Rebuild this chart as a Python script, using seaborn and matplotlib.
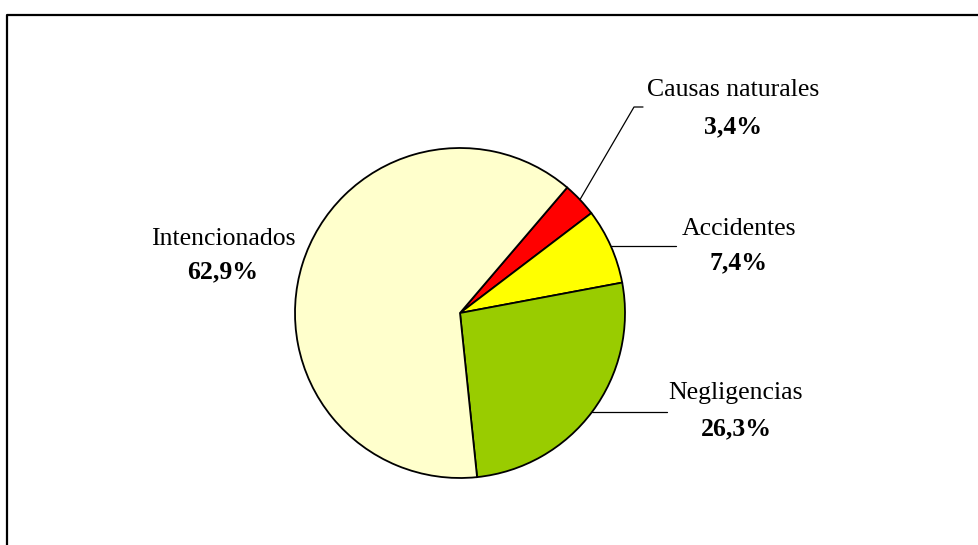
import seaborn as sns
import matplotlib.pyplot as plt
import numpy as np

# data
causas = ["Causas naturales", "Accidentes", "Negligencias", "Intencionados"]
porcentajes = [3.4, 7.4, 26.3, 62.9]
etiquetas_pct = ["3,4%", "7,4%", "26,3%", "62,9%"]
colores = ["#FF0000", "#FFFF00", "#99CC00", "#FFFFCC"]

sns.set_theme(style="white")
plt.rcParams["font.family"] = ["Liberation Serif", "DejaVu Serif"]
plt.rcParams["text.color"] = "black"

W, H = 979, 545
fig = plt.figure(figsize=(W / 100, H / 100), dpi=100)
ax = fig.add_axes([0, 0, 1, 1])

centro = (460, H - 313)
radio = 165
wedges, _ = ax.pie(porcentajes, colors=colores, startangle=49.5, counterclock=False,
                   center=centro, radius=radio,
                   wedgeprops=dict(edgecolor="black", linewidth=1.3))
ax.set_xlim(0, W)
ax.set_ylim(0, H)
ax.set_aspect("equal")
ax.axis("off")

# label positions (name centre x, name y, pct y) in pixels from top-left, and leader end
layout = {
    "Causas naturales": dict(x=733, yn=90, yp=127, leader=[(634, 107), (643, 107)]),
    "Accidentes": dict(x=739, yn=229, yp=263, leader="h", xend=676),
    "Negligencias": dict(x=736, yn=393, yp=429, leader="h", xend=667),
    "Intencionados": dict(x=223, yn=239, yp=272, leader=None),
}

fs = 18.5
for w, nombre, pct in zip(wedges, causas, etiquetas_pct):
    lay = layout[nombre]
    ax.text(lay["x"], H - lay["yn"], nombre, ha="center", va="center", fontsize=fs,
            color="black")
    ax.text(lay["x"], H - lay["yp"], pct, ha="center", va="center", fontsize=fs,
            fontweight="bold", color="black")
    ang = np.deg2rad((w.theta1 + w.theta2) / 2)
    x0 = centro[0] + radio * np.cos(ang)
    y0 = centro[1] + radio * np.sin(ang)
    if lay["leader"] == "h":
        ax.plot([x0, lay["xend"]], [y0, y0], color="black", lw=0.9)
    elif lay["leader"]:
        xs = [x0] + [p[0] for p in lay["leader"]]
        ys = [y0] + [H - p[1] for p in lay["leader"]]
        ax.plot(xs, ys, color="black", lw=0.9)

# chart-area border (only left and top edges are inside the picture)
ax.plot([7.5, 7.5, W + 10], [-10, H - 15, H - 15], color="black", lw=1.6,
        clip_on=False)

fig.savefig("out.png", dpi=100, facecolor="white")
